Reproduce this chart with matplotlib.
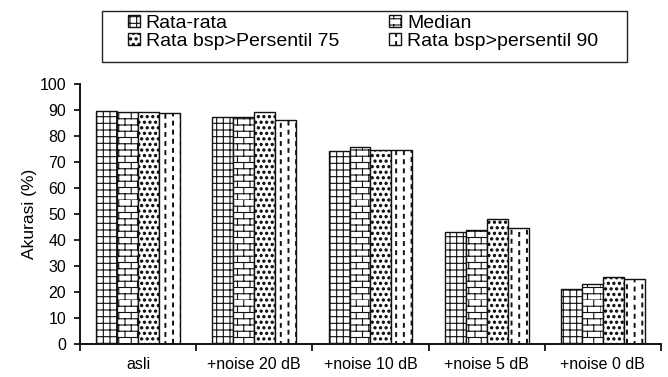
import warnings

import numpy as np
import matplotlib
matplotlib.use("Agg")
import matplotlib.pyplot as plt
import matplotlib.hatch as mhatch
from matplotlib.patches import Rectangle
from matplotlib.path import Path

warnings.filterwarnings("ignore", message="hatch must consist")

kategori = ["asli", "+noise 20 dB", "+noise 10 dB", "+noise 5 dB", "+noise 0 dB"]
rata_rata = [89.5, 87.0, 74.0, 43.0, 21.0]
median = [89.0, 87.0, 75.5, 43.5, 23.0]
rata_p75 = [89.0, 89.0, 74.5, 48.0, 25.5]
rata_p90 = [88.5, 86.0, 74.5, 44.5, 25.0]

nama_seri = ["Rata-rata", "Median", "Rata bsp>Persentil 75", "Rata bsp>persentil 90"]


# pola arsiran tambahan: g = kotak, b = bata, s = bintik, d = garis putus
def _garis(vertices, codes, segs):
    vertices[:] = np.array(segs).reshape(-1, 2)
    codes[0::2] = Path.MOVETO
    codes[1::2] = Path.LINETO


class GridHatch(mhatch.HatchPatternBase):
    def __init__(self, hatch, density):
        self.n = 15 * hatch.count("g")
        self.num_vertices = self.n * 4

    def set_vertices_and_codes(self, vertices, codes):
        segs = []
        for i in range(self.n):
            p = (i + 0.5) / self.n
            segs.append([(0.0, p), (1.0, p)])
            segs.append([(p, 0.0), (p, 1.0)])
        _garis(vertices, codes, segs)


class BrickHatch(mhatch.HatchPatternBase):
    def __init__(self, hatch, density):
        k = hatch.count("b")
        self.rows = 16 * k
        self.cols = 8 * k
        self.num_vertices = (self.rows + self.rows * self.cols) * 2

    def set_vertices_and_codes(self, vertices, codes):
        segs = []
        for i in range(self.rows):
            y0 = i / self.rows
            y1 = (i + 1) / self.rows
            segs.append([(0.0, y0), (1.0, y0)])
            shift = 0.5 * (i % 2)
            for j in range(self.cols):
                x = (j + shift) / self.cols
                segs.append([(x, y0), (x, y1)])
        _garis(vertices, codes, segs)


class DashHatch(mhatch.HatchPatternBase):
    # tiap potongan garis berupa persegi kecil yang diisi
    def __init__(self, hatch, density):
        k = hatch.count("d")
        self.cols = 13 * k
        self.dashes = 11 * k
        self.num_vertices = self.cols * self.dashes * 5

    def set_vertices_and_codes(self, vertices, codes):
        w = 0.004
        polys = []
        for c in range(self.cols):
            x = (c + 0.5) / self.cols
            for d in range(self.dashes):
                y0 = (d + 0.25 * (c % 2)) / self.dashes
                y1 = y0 + 0.42 / self.dashes
                polys.append([(x - w, y0), (x + w, y0), (x + w, y1),
                              (x - w, y1), (x - w, y0)])
        vertices[:] = np.array(polys).reshape(-1, 2)
        codes[:] = np.tile([Path.MOVETO, Path.LINETO, Path.LINETO,
                            Path.LINETO, Path.CLOSEPOLY], len(polys))


class StippleHatch(mhatch.Circles):
    size = 0.2
    filled = True

    def __init__(self, hatch, density):
        # jumlah baris harus genap
        self.num_rows = 18 * hatch.count("s")
        super().__init__(hatch, density)


mhatch._hatch_types.extend([GridHatch, BrickHatch, DashHatch, StippleHatch])

plt.rcParams["font.family"] = ["Liberation Sans", "DejaVu Sans"]
plt.rcParams["hatch.linewidth"] = 0.8

fig = plt.figure(figsize=(6.68, 3.77), dpi=100)
ax = fig.add_axes([80 / 668, 33.5 / 377, 581 / 668, 260 / 377])

x = np.arange(len(kategori))
lebar = 0.18
seri = [rata_rata, median, rata_p75, rata_p90]
arsiran = ["g", "b", "s", "d"]

bars = []
for i, (nilai, pola, nama) in enumerate(zip(seri, arsiran, nama_seri)):
    b = ax.bar(x + (i - 1.5) * lebar, nilai, lebar, color="white",
               edgecolor="#111111", linewidth=1.0, hatch=pola, label=nama)
    bars.append(b)

ax.set_xlim(-0.5, len(kategori) - 0.5)
ax.set_ylim(0, 100)
ax.set_yticks(np.arange(0, 101, 10))
ax.set_xticks(x)
ax.set_xticklabels(kategori, fontsize=11.5)
ax.set_xticks(np.arange(-0.5, len(kategori)), minor=True)
ax.tick_params(axis="x", which="major", length=0, pad=10)
ax.tick_params(axis="x", which="minor", length=5, width=1.2, direction="out")
ax.tick_params(axis="y", length=4, width=1.2, direction="out", labelsize=11.5, pad=6)
ax.set_ylabel("Akurasi (%)", fontsize=12.5, labelpad=2)

for s in ["top", "right"]:
    ax.spines[s].set_visible(False)
for s in ["left", "bottom"]:
    ax.spines[s].set_linewidth(1.4)
    ax.spines[s].set_color("#111111")

# legenda dua kolom, diisi baris per baris
urut = [0, 2, 1, 3]
leg = fig.legend([bars[i] for i in urut], [nama_seri[i] for i in urut],
                 ncol=2, loc="upper left", bbox_to_anchor=(128 / 668, 1 - 15 / 377),
                 fontsize=14, frameon=False,
                 handlelength=0.62, handleheight=0.55, handletextpad=0.28,
                 columnspacing=2.6, borderpad=0, labelspacing=0.05,
                 borderaxespad=0)
fig.patches.append(Rectangle((101.7 / 668, 1 - 61.7 / 377), 525 / 668, 51 / 377,
                             transform=fig.transFigure, fill=False,
                             edgecolor="#222222", linewidth=1.0))

fig.savefig("out.png", dpi=100)
